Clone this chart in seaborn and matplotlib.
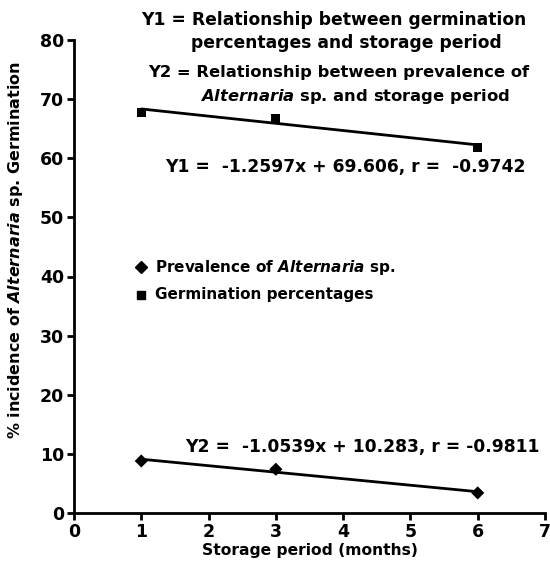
import matplotlib
matplotlib.use("Agg")
import matplotlib.pyplot as plt
import seaborn as sns
import pandas as pd

months = [1, 3, 6]
germination = [67.8, 66.8, 61.9]
prevalence = [8.8, 7.4, 3.4]
x_ticks = [0, 1, 2, 3, 4, 5, 6, 7]
y_ticks = [0, 10, 20, 30, 40, 50, 60, 70, 80]

sns.set_style("ticks")
FAM = "DejaVu Sans"
plt.rcParams["font.family"] = [FAM]
plt.rcParams["font.weight"] = "bold"
plt.rcParams["mathtext.fontset"] = "custom"
plt.rcParams["mathtext.rm"] = FAM + ":bold"
plt.rcParams["mathtext.it"] = FAM + ":italic:bold"
plt.rcParams["mathtext.bf"] = FAM + ":bold"
for k in ["text.color", "axes.labelcolor", "xtick.color", "ytick.color", "axes.edgecolor"]:
    plt.rcParams[k] = "black"

df = pd.DataFrame({"months": months, "germ": germination, "prev": prevalence})

fig = plt.figure(figsize=(5.5, 5.64), dpi=100)
ax = fig.add_axes([74/550, 1-513/564, (545-74)/550, (513-40)/564])

sns.regplot(data=df, x="months", y="prev", ax=ax, ci=None, truncate=True,
            marker="D", color="black",
            scatter_kws={"s": 45, "edgecolors": "none", "zorder": 3, "alpha": 1},
            line_kws={"lw": 2})
sns.regplot(data=df, x="months", y="germ", ax=ax, ci=None, truncate=True,
            marker="s", color="black",
            scatter_kws={"s": 42, "edgecolors": "none", "zorder": 3, "alpha": 1},
            line_kws={"lw": 2})

ax.set_xlim(0, 7)
ax.set_ylim(0, 80)
ax.set_xticks(x_ticks)
ax.set_yticks(y_ticks)
ax.tick_params(direction="out", length=5, width=2, labelsize=12.5, pad=2,
               colors="black")
for lab in ax.get_xticklabels() + ax.get_yticklabels():
    lab.set_fontweight("bold")
for s in ["left", "bottom"]:
    ax.spines[s].set_linewidth(2)
    ax.spines[s].set_color("black")
sns.despine(ax=ax)

ax.set_xlabel("Storage period (months)", fontsize=11.2, fontweight="bold", labelpad=2)
ax.set_ylabel(r"% incidence of $\mathit{Alternaria}$ sp. Germination",
              fontsize=11.5, fontweight="bold")
ax.yaxis.set_label_coords(-0.105, 0.555)

# legend-like entries
ax.plot([1.0], [41.6], marker="D", color="black", ms=6, ls="none", clip_on=False)
ax.plot([1.0], [36.9], marker="s", color="black", ms=5.5, ls="none", clip_on=False)
ax.text(1.2, 41.6, r"Prevalence of $\mathit{Alternaria}$ sp.", fontsize=11,
        fontweight="bold", va="center", ha="left")
ax.text(1.2, 36.9, "Germination percentages", fontsize=11,
        fontweight="bold", va="center", ha="left")

def px(xp, yp):
    return (xp / 550, 1 - yp / 564)

fs = 12.3
fs2 = 11.8
fig.text(*px(141, 20), "Y1 = Relationship between germination", fontsize=fs,
         fontweight="bold", va="center", ha="left")
fig.text(*px(191, 43), "percentages and storage period", fontsize=fs,
         fontweight="bold", va="center", ha="left")
fig.text(*px(148, 73), "Y2 = Relationship between prevalence of", fontsize=fs2,
         fontweight="bold", va="center", ha="left")
fig.text(*px(200, 97), r"$\mathit{Alternaria}$ sp. and storage period", fontsize=fs2,
         fontweight="bold", va="center", ha="left")
fig.text(*px(165, 167), "Y1 =  -1.2597x + 69.606, r =  -0.9742", fontsize=fs,
         fontweight="bold", va="center", ha="left")
fig.text(*px(185, 447), "Y2 =  -1.0539x + 10.283, r = -0.9811", fontsize=fs,
         fontweight="bold", va="center", ha="left")

fig.savefig("out.png", dpi=100)
